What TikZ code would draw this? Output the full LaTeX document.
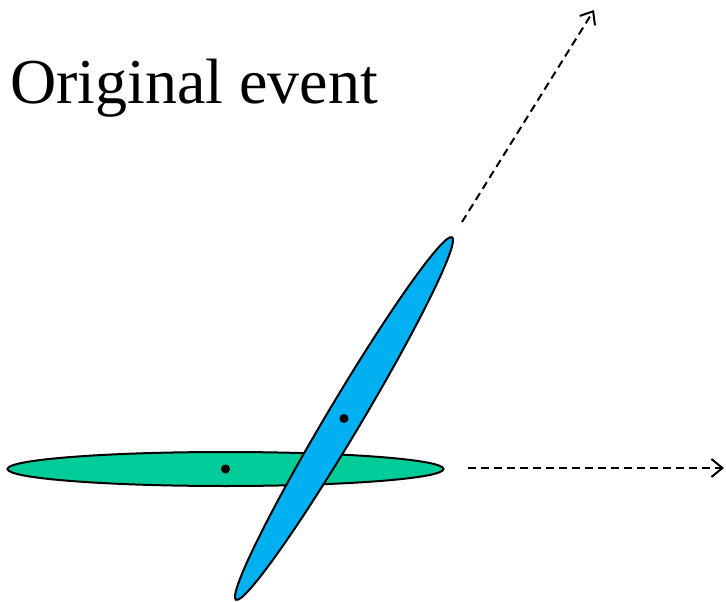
\documentclass[tikz,border=0pt]{standalone}
\usepackage{fontspec}
\setmainfont{Liberation Serif}
\usetikzlibrary{shapes.geometric,arrows.meta}

\definecolor{jetgreen}{RGB}{0,204,153}
\definecolor{jetblue}{RGB}{0,176,240}

\begin{document}
\begin{tikzpicture}[x=1pt, y=-1pt,
	jet/.style={draw, ellipse, line width=2pt, inner sep=0pt},
	axis/.style={dashed, dash pattern=on 8pt off 5pt, line width=2pt, -{Straight Barb[length=11pt, width=18pt, line width=2pt]}}]
	\useasboundingbox (0,0) rectangle (726,602);
	\node[anchor=base west, inner sep=0pt, font=\fontsize{64}{70}\selectfont] (title) at (10,103) {Original event};
	\node[jet, fill=jetgreen, minimum width=436pt, minimum height=34pt] (J1) at (225.5,469) {};
	\node[jet, fill=jetblue, minimum width=422pt, minimum height=34pt, rotate=59.2] (J2) at (344,418.5) {};
	\fill (J1.center) circle (4.5pt);
	\fill (J2.center) circle (4.5pt);
	\coordinate (A1) at (468,468);
	\coordinate (B1) at (724,468);
	\coordinate (A2) at (462,222);
	\coordinate (B2) at (594,10);
	\draw[axis] (A1) -- (B1);
	\draw[axis] (A2) -- (B2);
\end{tikzpicture}
\end{document}
